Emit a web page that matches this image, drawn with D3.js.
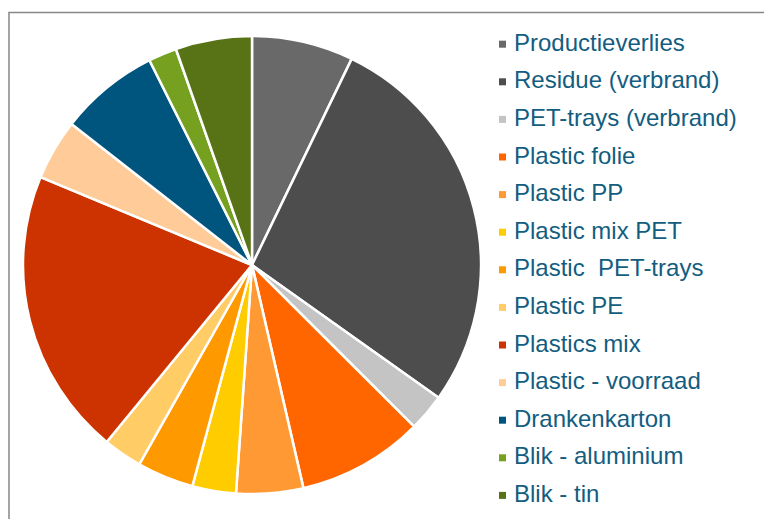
<!DOCTYPE html>
<html>
<head>
<meta charset="utf-8">
<script src="https://cdn.jsdelivr.net/npm/d3@7"></script>
<style>
  html, body { margin: 0; padding: 0; background: #fff; }
  svg { display: block; }
</style>
</head>
<body>
<svg id="chart" width="764" height="519"></svg>
<script>
// waste categories, share in percent
const categories = ['Productieverlies', 'Residue (verbrand)', 'PET-trays (verbrand)', 'Plastic folie',
    'Plastic PP', 'Plastic mix PET', 'Plastic  PET-trays', 'Plastic PE', 'Plastics mix',
    'Plastic - voorraad', 'Drankenkarton', 'Blik - aluminium', 'Blik - tin'];
const shares = [7.17, 27.67, 2.64, 8.92, 4.72, 3.08, 4.0, 2.75, 20.33, 4.28, 7.06, 2.0, 5.39];
const colors = ['#696969', '#4d4d4d', '#c4c4c4', '#ff6600', '#ff9933', '#ffcc00', '#ff9900',
    '#ffcc66', '#cc3300', '#ffcc99', '#00557f', '#75a020', '#587216'];

const svg = d3.select('#chart');
const cx = 252, cy = 265, r = 229;

// frame
svg.append('path')
    .attr('d', 'M9,519 V12.5 H764')
    .attr('fill', 'none')
    .attr('stroke', '#878787')
    .attr('stroke-width', 1.5);

const data = categories.map((c, i) => ({ name: c, value: shares[i], color: colors[i] }));

const pie = d3.pie()
    .value(d => d.value)
    .sort(null);
const arc = d3.arc()
    .innerRadius(0)
    .outerRadius(r);

const g = svg.append('g')
    .attr('transform', `translate(${cx},${cy})`);
g.selectAll('path')
    .data(pie(data))
    .enter().append('path')
    .attr('d', arc)
    .attr('fill', d => d.data.color)
    .attr('stroke', '#fff')
    .attr('stroke-width', 2.5)
    .attr('stroke-linejoin', 'round');

// legend
const ly = d3.scaleLinear()
    .domain([0, categories.length - 1])
    .range([50.7, 501.9]);
const legend = svg.append('g');
const rows = legend.selectAll('g')
    .data(data)
    .enter().append('g')
    .attr('transform', (d, i) => `translate(0,${ly(i)})`);
rows.append('rect')
    .attr('x', 499)
    .attr('y', -10)
    .attr('width', 7)
    .attr('height', 7)
    .attr('fill', d => d.color);
rows.append('text')
    .attr('x', 514)
    .attr('y', 0)
    .attr('font-family', 'Liberation Sans, Arial, sans-serif')
    .attr('font-size', 24)
    .attr('fill', '#135d80')
    .style('white-space', 'pre')
    .text(d => d.name);
</script>
</body>
</html>
